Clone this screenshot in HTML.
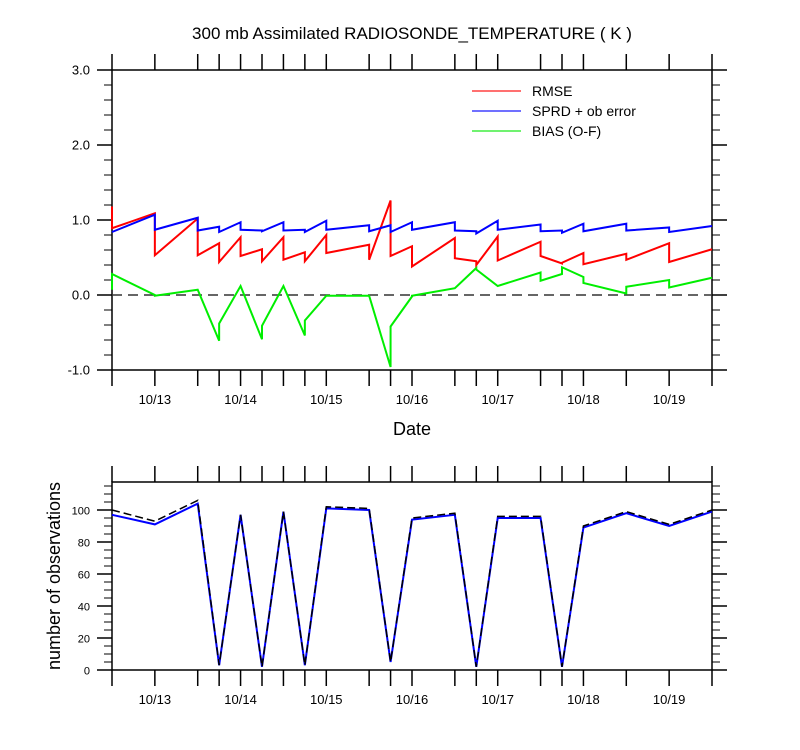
<!DOCTYPE html>
<html><head><meta charset="utf-8"><style>
body{margin:0;background:#fff;}
svg{display:block;font-family:"Liberation Sans",sans-serif;}
</style></head><body>
<svg id="chart" width="800" height="750" xmlns="http://www.w3.org/2000/svg"></svg>
<script>
const hours = [0,12,24,30,36,42,48,54,60,72,78,84,96,102,108,120,126,132,144,156,168];
const rmseArrive = [1.18,1.09,1.02,0.69,0.77,0.61,0.77,0.57,0.80,0.67,1.26,0.65,0.76,0.45,0.78,0.71,0.42,0.56,0.55,0.69,0.61];
const rmseDepart = [0.89,0.53,0.53,0.44,0.52,0.45,0.47,0.45,0.56,0.47,0.52,0.38,0.49,0.40,0.46,0.52,0.43,0.41,0.47,0.44,0.61];
const sprdArrive = [0.84,1.07,1.03,0.91,0.97,0.86,0.97,0.87,0.99,0.93,0.93,0.97,0.97,0.85,0.99,0.94,0.86,0.95,0.95,0.90,0.92];
const sprdDepart = [0.84,0.87,0.86,0.84,0.87,0.85,0.86,0.84,0.87,0.85,0.84,0.87,0.86,0.82,0.87,0.85,0.83,0.85,0.86,0.84,0.92];
const biasArrive = [0.07,0.00,0.07,-0.61,0.12,-0.59,0.12,-0.54,-0.01,-0.01,-0.96,-0.02,0.09,0.36,0.12,0.30,0.28,0.24,0.02,0.20,0.23];
const biasDepart = [0.28,-0.01,0.07,-0.38,0.12,-0.41,0.12,-0.34,-0.01,-0.01,-0.42,-0.01,0.09,0.34,0.12,0.19,0.37,0.16,0.11,0.10,0.23];
const obsUsed = [97,91,104,3,97,2,99,3,101,100,5,94,97,2,95,95,2,89,98,90,99];
const obsTotal = [100,93,106,3,97,2,99,3,102,101,5,95,98,2,96,96,2,90,99,91,100];
const dayLabels = ["10/13","10/14","10/15","10/16","10/17","10/18","10/19"];
const dayHours = [12,36,60,84,108,132,156];
const topTicks = ["-1.0","0.0","1.0","2.0","3.0"];
const topTickVals = [-1,0,1,2,3];
const botTicks = ["0","20","40","60","80","100"];
const botTickVals = [0,20,40,60,80,100];

const NS="http://www.w3.org/2000/svg";
const svg=document.getElementById('chart');
const X0=112,X1=712;
const x=h=>X0+(h/168)*(X1-X0);
const yTop=v=>370-(v+1)/4*300;
const yBot=v=>670-v*1.6;
function el(tag,attrs,parent){const e=document.createElementNS(NS,tag);for(const k in attrs)e.setAttribute(k,attrs[k]);(parent||svg).appendChild(e);return e;}
function txt(s,attrs){const t=el('text',attrs);t.textContent=s;return t;}

let t=txt("300 mb Assimilated RADIOSONDE_TEMPERATURE ( K )",{x:412,y:39,'font-size':17,'text-anchor':'middle',fill:'#000'});



function frame(name,yT,yB,yFn,minStep,vMin,vMax,majors,labels){
  const g=el('g',{});
  
  
  el('rect',{x:X0,y:yT,width:X1-X0,height:yB-yT,fill:'none',stroke:'#000','stroke-width':1.5},g);
  hours.forEach(h=>{
    el('line',{x1:x(h),x2:x(h),y1:yT-16,y2:yT,stroke:'#000','stroke-width':1.5},g);
    el('line',{x1:x(h),x2:x(h),y1:yB,y2:yB+16,stroke:'#000','stroke-width':1.5},g);
  });
  for(let v=vMin;v<=vMax+1e-9;v+=minStep){
    const yy=yFn(v);
    el('line',{x1:X0-8,x2:X0,y1:yy,y2:yy,stroke:'#000','stroke-width':1},g);
    el('line',{x1:X1,x2:X1+8,y1:yy,y2:yy,stroke:'#000','stroke-width':1},g);
  }
  majors.forEach((v,i)=>{
    const yy=yFn(v);
    el('line',{x1:X0-15,x2:X0,y1:yy,y2:yy,stroke:'#000','stroke-width':1.5},g);
    el('line',{x1:X1,x2:X1+15,y1:yy,y2:yy,stroke:'#000','stroke-width':1.5},g);
    const l=txt(labels[i],{x:X0-22,y:yy+4.5,'font-size':name==='top'?13:11,'text-anchor':'end',fill:'#000'});
    
    
  });
  dayHours.forEach((h,i)=>{
    const l=txt(dayLabels[i],{x:x(h),y:yB+34,'font-size':13,'text-anchor':'middle',fill:'#000'});
    
    
  });
}
frame('top',70,370,yTop,0.2,-1,3,topTickVals,topTicks);
frame('bottom',482,670,yBot,5,0,115,botTickVals,botTicks);

t=txt("Date",{x:412,y:435,'font-size':18,'text-anchor':'middle',fill:'#000'});


t=txt("number of observations",{x:0,y:0,'font-size':18,'text-anchor':'middle',fill:'#000',transform:'translate(60,576) rotate(-90)'});



let z=el('line',{x1:X0,x2:X1,y1:yTop(0),y2:yTop(0),stroke:'#333','stroke-width':1.5,'stroke-dasharray':'10,6'});



function saw(arr,dep){
  let pts=[];
  hours.forEach((h,i)=>{pts.push(x(h)+','+yTop(arr[i]));pts.push(x(h)+','+yTop(dep[i]));});
  return pts.join(' ');
}
let p=el('polyline',{points:saw(biasArrive,biasDepart),fill:'none',stroke:'#00ee00','stroke-width':2});


p=el('polyline',{points:saw(rmseArrive,rmseDepart),fill:'none',stroke:'#ff0000','stroke-width':2});


p=el('polyline',{points:saw(sprdArrive,sprdDepart),fill:'none',stroke:'#0000ff','stroke-width':2});



const legNames=["RMSE","SPRD + ob error","BIAS (O-F)"];
const legCols=["#ff4040","#4040ff","#40ee40"];
legNames.forEach((n,i)=>{
  const g=el('g',{});
  
  
  const yy=91+i*20;
  el('line',{x1:472,x2:521,y1:yy,y2:yy,stroke:legCols[i],'stroke-width':1.5},g);
  const tt=el('text',{x:532,y:yy+5,'font-size':14,fill:'#000'},g);tt.textContent=n;
});

p=el('polyline',{points:hours.map((h,i)=>x(h)+','+yBot(obsUsed[i])).join(' '),fill:'none',stroke:'#0000ff','stroke-width':2});


p=el('polyline',{points:hours.map((h,i)=>x(h)+','+yBot(obsTotal[i])).join(' '),fill:'none',stroke:'#000','stroke-width':1.5,'stroke-dasharray':'8,4'});


</script>
</body></html>
